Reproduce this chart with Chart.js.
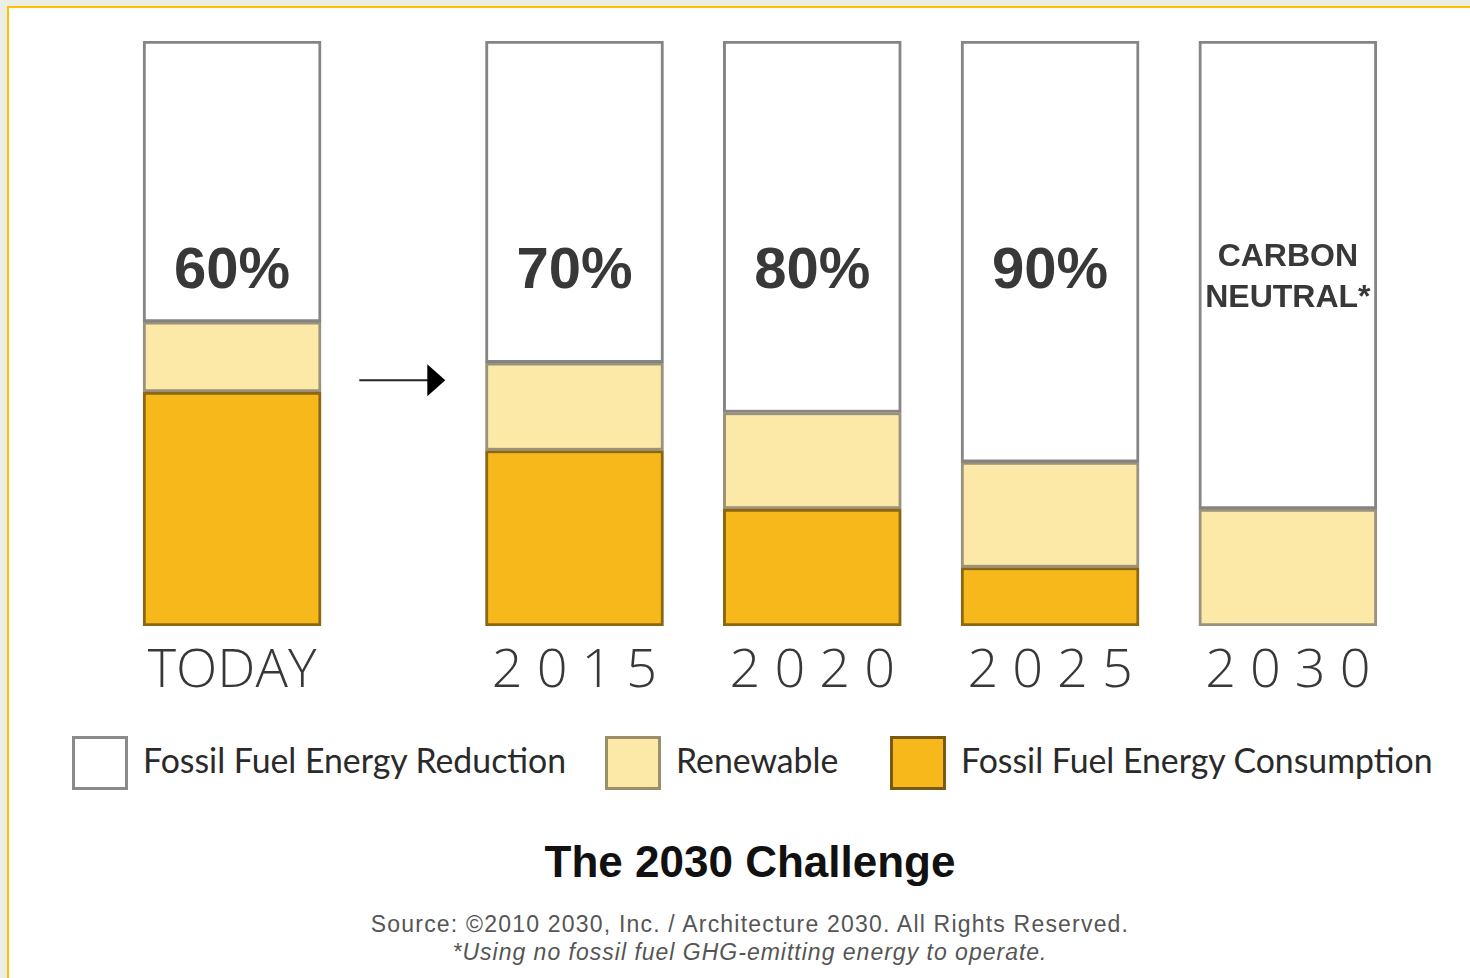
<!DOCTYPE html>
<html>
<head>
<meta charset="utf-8">
<script src="https://cdn.jsdelivr.net/npm/chart.js@4.4.1/dist/chart.umd.min.js"></script>
<style>
    html, body { margin: 0; padding: 0; }
    body {
        width: 1470px;
        height: 978px;
        background: #eceee6;
        position: relative;
        overflow: hidden;
        font-family: 'Liberation Sans', Arial, sans-serif;
    }
    .frame {
        position: absolute;
        left: 7px;
        top: 6px;
        width: 1500px;
        height: 1000px;
        background: #fff;
        border-top: 2px solid #ffc000;
        border-left: 2px solid #ffc000;
    }
    .chart-wrap {
        position: absolute;
        left: 0;
        top: 0;
        width: 1470px;
        height: 720px;
    }
    .legend-item {
        position: absolute;
        top: 736px;
        display: flex;
        align-items: center;
        height: 54px;
    }
    .legend-box {
        width: 50px;
        height: 48px;
        border: 3px solid #888;
        margin-right: 15px;
    }
    .legend-text {
        font-family: Lato, 'Open Sans', sans-serif;
        font-size: 33.8px;
        color: #2a2a2a;
        white-space: nowrap;
        position: relative;
        top: -3px;
    }
    .title {
        position: absolute;
        left: 0;
        width: 1500px;
        top: 837px;
        text-align: center;
        font-weight: bold;
        font-size: 44px;
        color: #111;
    }
    .source {
        position: absolute;
        left: 0;
        width: 1500px;
        text-align: center;
        font-size: 23px;
        color: #555;
        letter-spacing: 1.2px;
    }
</style>
</head>
<body>
<div class="frame"></div>
<div class="chart-wrap"><canvas id="challenge"></canvas></div>
<div id="legend"></div>
<div class="title">The 2030 Challenge</div>
<div class="source" style="top: 911px;">Source: ©2010 2030, Inc. / Architecture 2030. All Rights Reserved.</div>
<div class="source" style="top: 939px; font-style: italic; letter-spacing: 1px;">*Using no fossil fuel GHG-emitting energy to operate.</div>

<script>
const xLabels = ['TODAY', '2015', '2020', '2025', '2030'];
const targetLabels = ['60%', '70%', '80%', '90%', ['CARBON', 'NEUTRAL*']];

const consumption = [40, 30, 20, 10, 0];
const renewable = [12, 15, 16.5, 18, 20];
const reduction = [48, 55, 63.5, 72, 80];

// extra room between TODAY and the target years (for the arrow)
const firstGap = 0.44;
const xPos = xLabels.map((_, i) => (i === 0 ? 0 : i + firstGap));

const ink = '#383838';

function points(values) {
    return values.map((v, i) => ({ x: xPos[i], y: v }));
}

const datasets = [
    {
        label: 'Fossil Fuel Energy Consumption',
        data: points(consumption),
        backgroundColor: '#f6b81a',
        borderColor: '#8c6712',
        legendBorder: '#7a5a10',
    },
    {
        label: 'Renewable',
        data: points(renewable),
        backgroundColor: '#fce9a7',
        borderColor: 'rgba(120, 110, 80, 0.75)',
        legendBorder: '#9a8f6a',
    },
    {
        label: 'Fossil Fuel Energy Reduction',
        data: points(reduction),
        backgroundColor: '#ffffff',
        borderColor: '#858585',
        legendBorder: '#8a8a8a',
    },
].map((d) => ({
    ...d,
    borderWidth: 3,
    borderSkipped: false,
    barThickness: 178,
}));

const barLabels = {
    id: 'barLabels',
    afterDatasetsDraw(chart) {
        const { ctx, chartArea } = chart;
        const meta = chart.getDatasetMeta(2);
        const yMid = chartArea.top + (chartArea.bottom - chartArea.top) * 0.395;
        ctx.save();
        ctx.fillStyle = ink;
        ctx.textAlign = 'center';
        ctx.textBaseline = 'middle';
        meta.data.forEach((bar, i) => {
            const lab = targetLabels[i];
            if (Array.isArray(lab)) {
                ctx.font = 'bold 32px "Liberation Sans", Arial, sans-serif';
                lab.forEach((line, k) => {
                    ctx.fillText(line, bar.x, yMid + 6 + (k - 0.5) * 41);
                });
            } else {
                ctx.font = 'bold 58px "Liberation Sans", Arial, sans-serif';
                ctx.fillText(lab, bar.x, yMid);
            }
        });

        // arrow from TODAY to the targets
        const x = chart.scales.x;
        const xm = x.getPixelForValue((xPos[0] + xPos[1]) / 2);
        const ya = chartArea.top + (chartArea.bottom - chartArea.top) * 0.58;
        ctx.strokeStyle = '#222';
        ctx.lineWidth = 2;
        ctx.beginPath();
        ctx.moveTo(xm - 44, ya);
        ctx.lineTo(xm + 28, ya);
        ctx.stroke();
        ctx.fillStyle = '#000';
        ctx.beginPath();
        ctx.moveTo(xm + 24, ya - 16);
        ctx.lineTo(xm + 42, ya);
        ctx.lineTo(xm + 24, ya + 16);
        ctx.closePath();
        ctx.fill();
        ctx.restore();
    },
};

new Chart(document.getElementById('challenge'), {
    type: 'bar',
    data: { datasets },
    options: {
        responsive: true,
        maintainAspectRatio: false,
        animation: false,
        layout: { padding: { top: 41, bottom: 14, left: 0, right: 0 } },
        scales: {
            x: {
                type: 'linear',
                stacked: true,
                offset: false,
                min: -0.976,
                max: 5.206,
                grid: { display: false },
                border: { display: false },
                afterBuildTicks(scale) {
                    scale.ticks = xPos.map((v) => ({ value: v }));
                },
                afterFit(scale) {
                    scale.height = 80;
                },
                ticks: {
                    autoSkip: false,
                    maxRotation: 0,
                    padding: 5,
                    color: ink,
                    font: { family: '"Open Sans", sans-serif', size: 54, weight: 300 },
                    callback: (v, i) => {
                        const l = xLabels[i];
                        return /^\d+$/.test(l) ? l.split('').join(' ') : l;
                    },
                },
            },
            y: {
                stacked: true,
                display: false,
                min: 0,
                max: 100,
            },
        },
        plugins: {
            legend: { display: false },
            tooltip: { enabled: false },
        },
    },
    plugins: [barLabels],
});

// legend, top series first
const legendLeft = [72, 605, 890];
const legendEl = document.getElementById('legend');
[...datasets].reverse().forEach((d, i) => {
    const item = document.createElement('div');
    item.className = 'legend-item';
    item.style.left = legendLeft[i] + 'px';
    item.innerHTML =
        `<div class="legend-box" style="background:${d.backgroundColor};border-color:${d.legendBorder}"></div>` +
        `<span class="legend-text">${d.label}</span>`;
    legendEl.appendChild(item);
});
</script>
</body>
</html>
